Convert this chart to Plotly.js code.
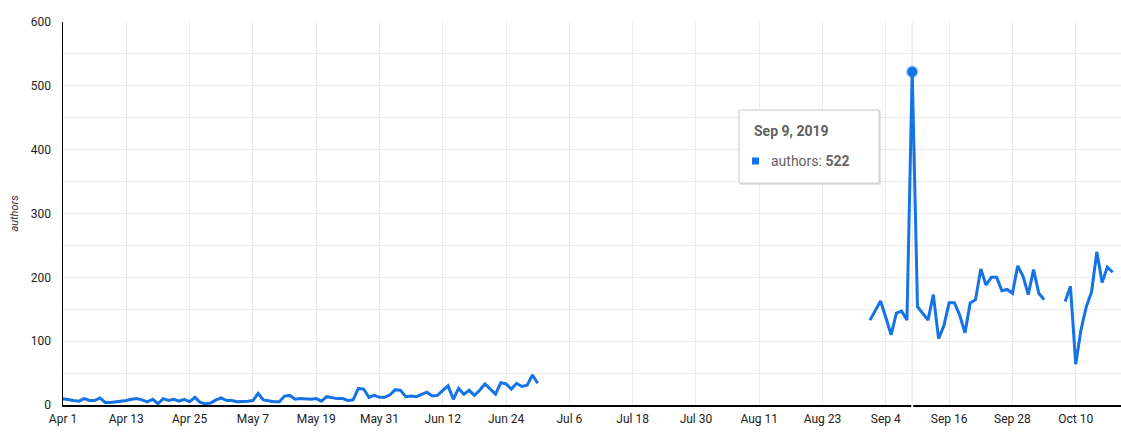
<!DOCTYPE html>
<html>
<head>
<meta charset="utf-8">
<script src="https://cdn.plot.ly/plotly-3.0.1.min.js"></script>
<style>
html,body{margin:0;padding:0;background:#fff;}
#chart{width:1121px;height:442px;}
</style>
</head>
<body>
<div id="chart"></div>
<script>
// Segment 1: daily values from 2019-04-01
const seg1Start = '2019-04-01';
const seg1Values = [
  10,8,7,6,10,7,7,11,4,4,5,5,7,9,10,8,5,9,2,10,7,9,6,9,5,12,4,2,3,8,
  11,7,7,5,5,6,7,18,8,6,5,5,14,15,9,10,9,9,10,6,13,11,10,10,7,8,26,25,12,15,12,
  12,16,24,23,13,14,13,16,20,14,15,23,30,9,26,17,23,15,23,33,25,17,35,33,25,34,29,31,47,34
];
// Segment 2: daily values from 2019-09-01
const seg2Start = '2019-09-01';
const seg2Values = [
  133,148,163,137,110,144,147,133,522,154,144,133,173,104,124,160,160,141,113,160,165,213,188,200,200,179,181,175,218,202,
  173,212,175,165
];
// Segment 3: daily values from 2019-10-08
const seg3Start = '2019-10-08';
const seg3Values = [162,186,64,118,154,177,240,192,216,208];

const hoverDate = '2019-09-09';
const hoverValue = 522;
const hoverTitle = 'Sep 9, 2019';
const seriesName = 'authors';

const DAY = 86400000;
function datesFrom(start, n){
  const t0 = Date.parse(start + 'T00:00:00Z');
  const out = [];
  for(let i=0;i<n;i++){ out.push(new Date(t0 + i*DAY).toISOString().slice(0,10)); }
  return out;
}
const x = [], y = [];
[[seg1Start, seg1Values],[seg2Start, seg2Values],[seg3Start, seg3Values]].forEach(([s, v], k) => {
  if(k>0){ // gap marker
    const prev = x[x.length-1];
    x.push(new Date(Date.parse(prev+'T00:00:00Z') + DAY).toISOString().slice(0,10));
    y.push(null);
  }
  datesFrom(s, v.length).forEach((d,i)=>{ x.push(d); y.push(v[i]); });
});

const blue = '#1473e6';
const traces = [
  {x, y, type:'scatter', mode:'lines', connectgaps:false,
   line:{color:blue, width:3}, hoverinfo:'skip', name:seriesName},
  {x:[hoverDate], y:[hoverValue], type:'scatter', mode:'markers',
   marker:{size:10, color:blue, line:{color:'rgba(20,115,230,0.3)', width:3}}, hoverinfo:'skip'}
];

// pixel -> paper helpers (plot area l=63, r=1121, t=22, b=405)
const px = v => (v-63)/1058;
const py = v => (405-v)/383;

const layout = {
  width:1121, height:442,
  margin:{l:63, r:0, t:22, b:37, pad:0},
  paper_bgcolor:'#fff', plot_bgcolor:'#fff',
  showlegend:false,
  font:{family:'Roboto, sans-serif', size:12, color:'#222'},
  xaxis:{
    type:'date',
    range:['2019-04-01', '2019-10-18 14:00'],
    tick0:'2019-04-01', dtick:12*DAY, tickformat:'%b %-d',
    showgrid:true, gridcolor:'#ebebeb', gridwidth:1,
    showline:true, linecolor:'#000', linewidth:1.5,
    ticks:'', zeroline:false, fixedrange:true,
    ticklabelstandoff:2,
    tickfont:{size:12, color:'#222'}
  },
  yaxis:{
    range:[0,600], dtick:100, tick0:0,
    showgrid:true, gridcolor:'#ebebeb', gridwidth:1,
    minor:{dtick:50, showgrid:true, gridcolor:'#ebebeb', gridwidth:1},
    showline:true, linecolor:'#000', linewidth:1.5,
    zeroline:false, ticks:'', ticklen:0,
    ticklabelstandoff:8,
    tickfont:{size:12, color:'#222'},
    title:{text:seriesName, font:{size:11, color:'#333', family:'Roboto, sans-serif', style:'italic'}, standoff:10}
  },
  shapes:[
    // hover crosshair
    {type:'line', xref:'x', yref:'paper', x0:hoverDate, x1:hoverDate, y0:0, y1:1,
     line:{color:'#ececec', width:1.5}, layer:'below'},
    {type:'line', xref:'x', yref:'paper', x0:hoverDate, x1:hoverDate, y0:-0.006, y1:0.006,
     line:{color:'#fff', width:2}, layer:'above'},
    // tooltip shadow
    {type:'rect', xref:'paper', yref:'paper', x0:px(740), x1:px(881), y0:py(185), y1:py(111),
     fillcolor:'rgba(0,0,0,0.10)', line:{width:0}, layer:'above'},
    // tooltip box
    {type:'rect', xref:'paper', yref:'paper', x0:px(739), x1:px(879), y0:py(183), y1:py(110),
     fillcolor:'#fff', line:{color:'#c8c8c8', width:1}, layer:'above'},
    // legend square
    {type:'rect', xref:'paper', yref:'paper', x0:px(752), x1:px(759), y0:py(164.5), y1:py(157.5),
     fillcolor:blue, line:{width:0}, layer:'above'}
  ],
  annotations:[
    {xref:'paper', yref:'paper', x:px(752), y:py(131), xanchor:'left', yanchor:'middle',
     text:'<b>'+hoverTitle+'</b>', showarrow:false, font:{size:14, color:'#5f5f5f', family:'Roboto, sans-serif'}},
    {xref:'paper', yref:'paper', x:px(769), y:py(161), xanchor:'left', yanchor:'middle',
     text:seriesName+': <b>'+hoverValue+'</b>', showarrow:false, font:{size:14, color:'#666', family:'Roboto, sans-serif'}}
  ]
};

Plotly.newPlot('chart', traces, layout, {displayModeBar:false, staticPlot:true});
</script>
</body>
</html>
